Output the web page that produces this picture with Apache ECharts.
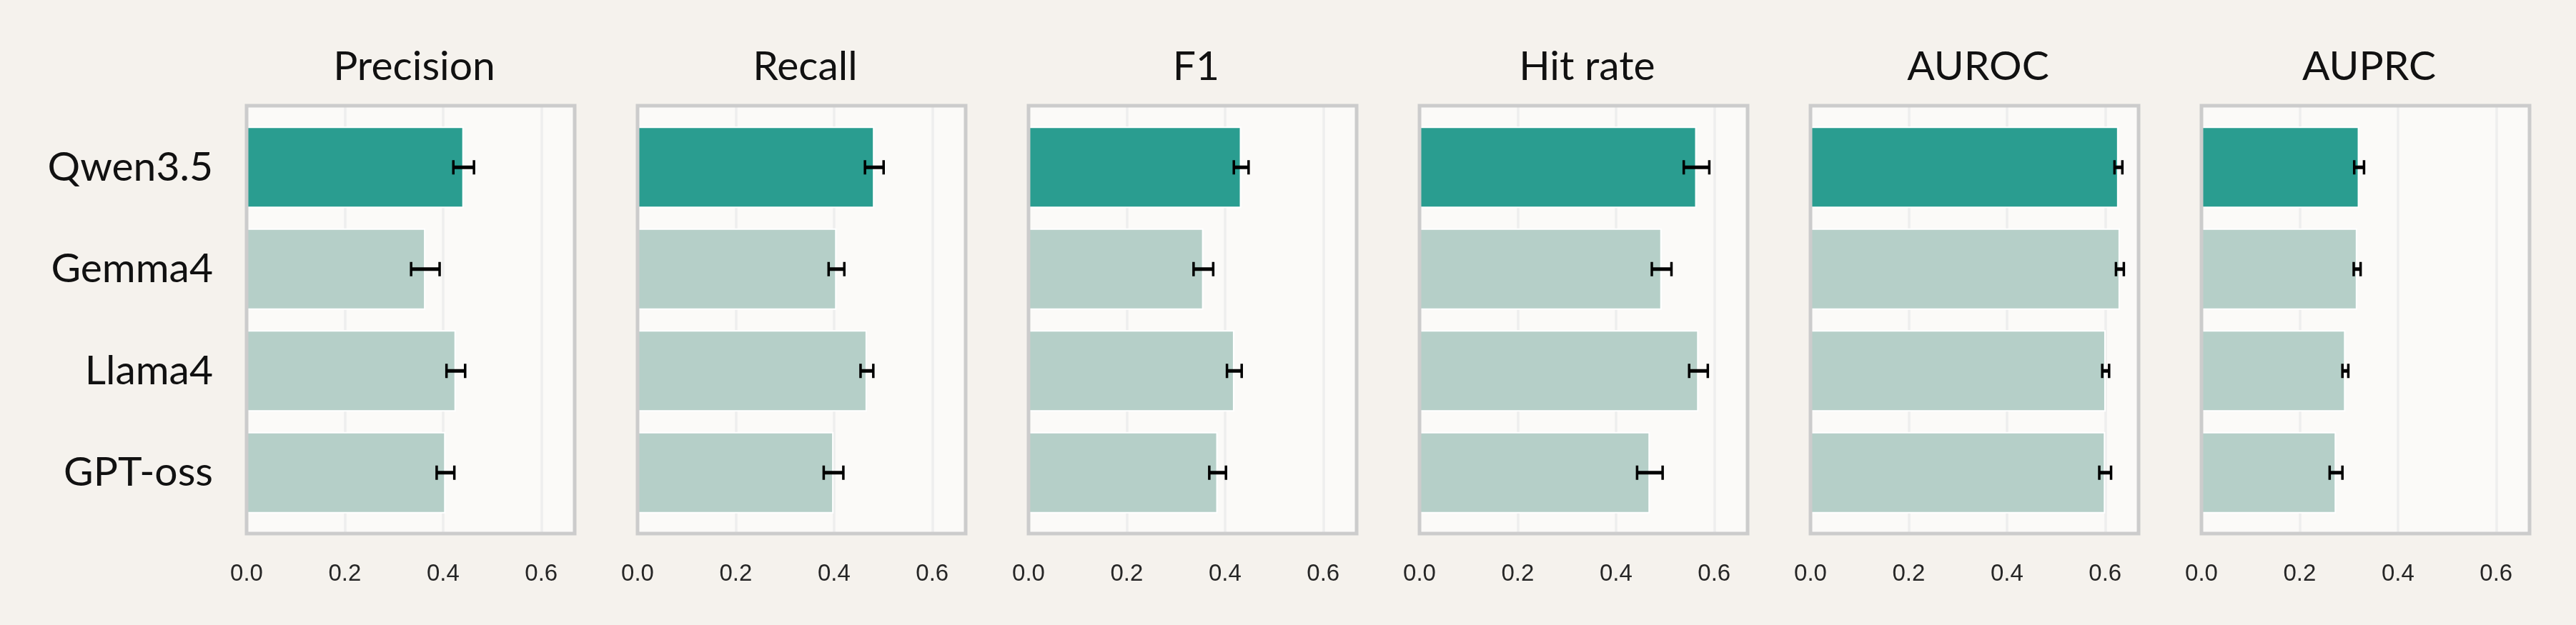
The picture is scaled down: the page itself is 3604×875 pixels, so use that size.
<!DOCTYPE html>
<html>
<head>
<meta charset="utf-8">
<script src="https://cdn.jsdelivr.net/npm/echarts@6/dist/echarts.min.js"></script>
<style>
  html, body { margin: 0; padding: 0; background: #f5f2ed; }
  #chart { width: 3604px; height: 875px; }
</style>
</head>
<body>
<div id="chart"></div>
<script>
  // models on the y axis, top to bottom
  const models = ['Qwen3.5', 'Gemma4', 'Llama4', 'GPT-oss']
  const metrics = ['Precision', 'Recall', 'F1', 'Hit rate', 'AUROC', 'AUPRC']

  // mean score per model, one array per metric
  const precision = [0.442, 0.364, 0.426, 0.405]
  const recall = [0.482, 0.405, 0.467, 0.399]
  const f1 = [0.433, 0.356, 0.419, 0.385]
  const hitRate = [0.564, 0.493, 0.568, 0.469]
  const auroc = [0.627, 0.630, 0.601, 0.600]
  const auprc = [0.321, 0.317, 0.293, 0.274]

  // half width of the error bars
  const precisionErr = [0.021, 0.029, 0.019, 0.018]
  const recallErr = [0.019, 0.016, 0.013, 0.020]
  const f1Err = [0.015, 0.020, 0.015, 0.017]
  const hitRateErr = [0.026, 0.020, 0.019, 0.026]
  const aurocErr = [0.008, 0.008, 0.007, 0.012]
  const auprcErr = [0.010, 0.007, 0.006, 0.013]

  const xTicks = [0, 0.2, 0.4, 0.6]
  const xMax = 0.668

  const values = [precision, recall, f1, hitRate, auroc, auprc]
  const errors = [precisionErr, recallErr, f1Err, hitRateErr, aurocErr, auprcErr]

  const DARK = '#2a9d90'
  const LIGHT = '#b5cfc8'
  const TITLE_FONT = 'Lato'
  const TICK_FONT = 'Liberation Sans'

  // panel layout (px)
  const panelLeft = 345
  const panelStep = 547
  const panelWidth = 459
  const boxTop = 148
  const boxHeight = 599
  const barTop = 163
  const barHeight = 570

  const grid = []
  const xAxis = []
  const yAxis = []
  const series = []
  const title = []

  metrics.forEach((name, i) => {
    const left = panelLeft + i * panelStep
    const g = i * 3

    title.push({
      text: name,
      left: left + panelWidth / 2,
      top: 60,
      textAlign: 'center',
      textStyle: {
        fontFamily: TITLE_FONT,
        fontSize: 57,
        fontWeight: 'normal',
        color: '#111111',
      },
    })

    // background panel with grid lines and tick labels
    grid.push({
      left: left,
      top: boxTop,
      width: panelWidth,
      height: boxHeight,
      show: true,
      backgroundColor: '#fbfaf8',
      borderWidth: 0,
    })
    // bars
    grid.push({
      left: left,
      top: barTop,
      width: panelWidth,
      height: barHeight,
    })
    // frame drawn above the bars
    grid.push({
      left: left,
      top: boxTop,
      width: panelWidth,
      height: boxHeight,
      show: true,
      z: 10,
      backgroundColor: 'rgba(0,0,0,0)',
      borderColor: '#cccccc',
      borderWidth: 5,
    })

    xAxis.push({
      gridIndex: g,
      type: 'value',
      min: 0,
      max: xMax,
      interval: xTicks[1] - xTicks[0],
      axisLine: { show: false },
      axisTick: { show: false },
      axisLabel: {
        margin: 40,
        showMaxLabel: false,
        fontFamily: TICK_FONT,
        fontSize: 33,
        color: '#262626',
        formatter: (v) => v.toFixed(1),
      },
      splitLine: {
        show: true,
        showMinLine: false,
        showMaxLine: false,
        lineStyle: { color: '#eeeeee', width: 3.5 },
      },
    })
    xAxis.push({
      gridIndex: g + 1,
      type: 'value',
      min: 0,
      max: xMax,
      show: false,
    })
    xAxis.push({
      gridIndex: g + 2,
      type: 'value',
      min: 0,
      max: xMax,
      show: false,
    })

    yAxis.push({
      gridIndex: g,
      type: 'value',
      show: false,
    })
    yAxis.push({
      gridIndex: g + 1,
      type: 'category',
      inverse: true,
      data: models,
      axisLine: { show: false },
      axisTick: { show: false },
      splitLine: { show: false },
      axisLabel: {
        show: i === 0,
        margin: 47,
        fontFamily: TITLE_FONT,
        fontSize: 57,
        color: '#111111',
      },
    })
    yAxis.push({
      gridIndex: g + 2,
      type: 'value',
      show: false,
    })

    series.push({
      name: name,
      type: 'bar',
      xAxisIndex: g + 1,
      yAxisIndex: g + 1,
      barWidth: '80%',
      data: values[i],
      itemStyle: {
        color: (p) => (p.dataIndex === 0 ? DARK : LIGHT),
        borderColor: '#ffffff',
        borderWidth: 2,
      },
      silent: true,
    })

    series.push({
      name: name + ' err',
      type: 'custom',
      xAxisIndex: g + 1,
      yAxisIndex: g + 1,
      z: 5,
      silent: true,
      encode: { x: 0, y: 2 },
      data: values[i].map((v, k) => [v, errors[i][k], k]),
      renderItem: (params, api) => {
        const v = api.value(0)
        const e = api.value(1)
        const c = api.value(2)
        const lo = api.coord([v - e, c])
        const hi = api.coord([v + e, c])
        const cap = 10
        const style = { stroke: '#000000', lineWidth: 5 }
        const capStyle = { stroke: '#000000', lineWidth: 3.5 }
        return {
          type: 'group',
          children: [
            { type: 'line', shape: { x1: lo[0], y1: lo[1], x2: hi[0], y2: hi[1] }, style: style },
            { type: 'line', shape: { x1: lo[0], y1: lo[1] - cap, x2: lo[0], y2: lo[1] + cap }, style: capStyle },
            { type: 'line', shape: { x1: hi[0], y1: hi[1] - cap, x2: hi[0], y2: hi[1] + cap }, style: capStyle },
          ],
        }
      },
    })
  })

  const EChart = echarts.init(document.getElementById('chart'), null, { renderer: 'canvas' })
  EChart.setOption({
    backgroundColor: '#f5f2ed',
    animation: false,
    title: title,
    grid: grid,
    xAxis: xAxis,
    yAxis: yAxis,
    series: series,
  })
</script>
</body>
</html>
